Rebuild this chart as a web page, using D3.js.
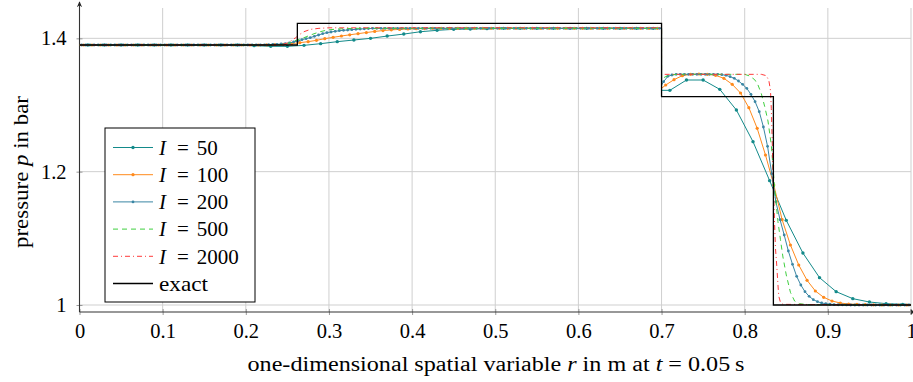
<!doctype html>
<html lang="en">
  <head>
    <meta charset="utf-8" />
    <title>Pressure profile</title>
    <style>
      body { margin: 0; background: #fff; }
      svg text { font-family: "Liberation Serif", serif; fill: #000; }
    </style>
  </head>
  <body>
    <div id="my_dataviz"></div>
    <script src="https://d3js.org/d3.v7.min.js"></script>
    <script>
// ticks
var xTicks = [0, 0.1, 0.2, 0.3, 0.4, 0.5, 0.6, 0.7, 0.8, 0.9, 1];
var yTicks = [1, 1.2, 1.4];
var legendNames = ["50", "100", "200", "500", "2000"];

// pressure at cell centres, I = 50 / 100 / 200
var p50 = [1.39,1.39,1.39,1.39,1.39,1.39,1.39,1.39,1.39,1.39,
  1.389,1.388,1.388,1.3895,1.392,1.395,1.3975,1.4,1.4034,1.4064,
  1.4099,1.412,1.4135,1.414,1.4145,1.415,1.415,1.415,1.415,1.415,
  1.415,1.415,1.415,1.415,1.415,
  1.322,1.3375,1.3375,1.3235,1.2925,1.245,1.1865,1.127,1.078,1.041,
  1.02,1.0095,1.0045,1.002,1.001];

var p100 = [1.39,1.39,1.39,1.39,1.39,1.39,1.39,1.39,1.39,1.39,
  1.39,1.39,1.39,1.39,1.39,1.39,1.39,1.39,1.39,1.39,
  1.39,1.39,1.3903,1.3906,1.391,1.392,1.3935,1.395,1.397,1.3995,
  1.4015,1.4035,1.4053,1.407,1.4087,1.4103,1.4117,1.4127,1.4134,1.414,
  1.4144,1.4147,1.415,1.415,1.415,1.415,1.415,1.415,1.415,1.415,
  1.415,1.415,1.415,1.415,1.415,1.415,1.415,1.415,1.415,1.415,
  1.415,1.415,1.415,1.415,1.415,1.415,1.415,1.415,1.415,1.415,
  1.33,1.338,1.344,1.346,1.3465,1.346,1.3445,1.34,1.331,1.318,
  1.296,1.265,1.225,1.18,1.128,1.09,1.06,1.037,1.021,1.0115,
  1.006,1.003,1.0015,1.001,1.0005,1.0003,1,1,1,1];

var p200 = [1.39,1.39,1.39,1.39,1.39,1.39,1.39,1.39,1.39,1.39,
  1.39,1.39,1.39,1.39,1.39,1.39,1.39,1.39,1.39,1.39,
  1.39,1.39,1.39,1.39,1.39,1.39,1.39,1.39,1.39,1.39,
  1.39,1.39,1.39,1.39,1.39,1.39,1.39,1.39,1.39,1.39,
  1.39,1.39,1.39,1.39,1.3902,1.3905,1.391,1.391,1.3915,1.392,
  1.393,1.3945,1.396,1.398,1.3995,1.401,1.403,1.405,1.407,1.4085,
  1.4095,1.4105,1.4115,1.412,1.4125,1.413,1.4135,1.414,1.4143,1.4146,
  1.415,1.415,1.415,1.415,1.415,1.415,1.415,1.415,1.415,1.415,
  1.415,1.415,1.415,1.415,1.415,1.415,1.415,1.415,1.415,1.415,
  1.415,1.415,1.415,1.415,1.415,1.415,1.415,1.415,1.415,1.415,
  1.415,1.415,1.415,1.415,1.415,1.415,1.415,1.415,1.415,1.415,
  1.415,1.415,1.415,1.415,1.415,1.415,1.415,1.415,1.415,1.415,
  1.415,1.415,1.415,1.415,1.415,1.415,1.415,1.415,1.415,1.415,
  1.415,1.415,1.415,1.415,1.415,1.415,1.415,1.415,1.415,1.415,
  1.335,1.343,1.345,1.346,1.346,1.346,1.346,1.346,1.346,1.346,
  1.346,1.346,1.346,1.346,1.3455,1.3445,1.3425,1.34,1.336,1.331,
  1.325,1.316,1.305,1.29,1.267,1.238,1.197,1.155,1.128,1.105,
  1.081,1.061,1.043,1.03,1.02,1.013,1.008,1.005,1.003,1.002,
  1.0012,1.0007,1.0004,1.0002,1.0001,1,1,1,1,1,
  1,1,1,1,1,1,1,1,1,1];

// values left / right of the junction at r = 0.7 (I = 50, 100, 200)
var ifaceLeft = [1.415, 1.415, 1.415];
var ifaceRight = [1.322, 1.325, 1.33];

// I = 500 and I = 2000, no markers
var r500 = [0, 0.24, 0.25, 0.258, 0.268, 0.278, 0.288, 0.298, 0.31, 0.33, 0.7, 0.7, 0.702, 0.704, 0.708, 0.714, 0.72,
  0.8, 0.806, 0.812, 0.816, 0.82, 0.824, 0.828, 0.832, 0.836, 0.84, 0.843, 0.846, 0.85, 0.855, 0.86, 0.866, 0.875, 1];
var p500 = [1.39, 1.39, 1.392, 1.396, 1.4, 1.405, 1.4095, 1.4125, 1.414, 1.415, 1.415, 1.338, 1.34, 1.342, 1.344, 1.3455, 1.346,
  1.346, 1.3435, 1.338, 1.33, 1.317, 1.298, 1.276, 1.24, 1.175, 1.125, 1.098, 1.072, 1.045, 1.019, 1.006, 1.002, 1.0005, 1];

var r2000 = [0, 0.242, 0.25, 0.254, 0.26, 0.265, 0.27, 0.278, 0.288, 0.3, 0.7, 0.7,
  0.82, 0.826, 0.829, 0.831, 0.832, 0.833, 0.834, 0.835, 0.836, 0.837, 0.8385, 0.84, 0.841, 0.843, 0.846, 1];
var p2000 = [1.39, 1.39, 1.393, 1.396, 1.401, 1.406, 1.41, 1.4135, 1.415, 1.4158, 1.4158, 1.346,
  1.346, 1.344, 1.337, 1.322, 1.295, 1.25, 1.2, 1.16, 1.12, 1.085, 1.06, 1.03, 1.013, 1.004, 1.001, 1];

// exact solution
var rExact = [0, 0.262, 0.262, 0.7, 0.7, 0.8345, 0.8345, 1];
var pExact = [1.39, 1.39, 1.4225, 1.4225, 1.3125, 1.3125, 1, 1];

var width = 913, height = 382;
var serif = "'Liberation Serif', serif";

var svg = d3.select("#my_dataviz")
  .append("svg")
    .attr("width", width)
    .attr("height", height);

var x = d3.scaleLinear().domain([0, 1]).range([79.5, 911]);
var y = d3.scaleLinear().domain([0.9895, 1.45]).range([312, 5]);

// grid
svg.append("g")
  .selectAll("line")
  .data(xTicks)
  .enter()
  .append("line")
    .attr("x1", function(d) { return x(d); })
    .attr("x2", function(d) { return x(d); })
    .attr("y1", y(0.9895))
    .attr("y2", 8)
    .attr("stroke", "#cfcfcf")
    .attr("stroke-width", 1);

svg.append("g")
  .selectAll("line")
  .data(yTicks)
  .enter()
  .append("line")
    .attr("x1", x(0))
    .attr("x2", x(1))
    .attr("y1", function(d) { return y(d); })
    .attr("y2", function(d) { return y(d); })
    .attr("stroke", "#cfcfcf")
    .attr("stroke-width", 1);

// axes
var xAxis = d3.axisBottom(x).tickValues(xTicks).tickSize(6).tickPadding(8)
  .tickFormat(function(d) { return d === 0 || d === 1 ? d3.format("d")(d) : d3.format(".1f")(d); });
var gx = svg.append("g")
  .attr("transform", "translate(0," + (y(0.9895) - 3) + ")")
  .attr("font-family", serif)
  .call(xAxis);
gx.select(".domain").remove();
gx.selectAll(".tick line").attr("stroke", "#999");
gx.selectAll(".tick text").attr("font-family", serif).style("font-size", "20.5px");

var yAxis = d3.axisLeft(y).tickValues(yTicks).tickSize(6).tickPadding(10)
  .tickFormat(function(d) { return d === 1 ? "1" : d3.format(".1f")(d); });
var gy = svg.append("g")
  .attr("transform", "translate(" + (x(0) + 3) + ",0)")
  .attr("font-family", serif)
  .call(yAxis);
gy.select(".domain").remove();
gy.selectAll(".tick line").attr("stroke", "#999");
gy.selectAll(".tick text").attr("font-family", serif).style("font-size", "20.5px");

// axis lines with arrows
svg.append("defs").append("marker")
    .attr("id", "arrow")
    .attr("viewBox", "0 0 10 10")
    .attr("refX", 8).attr("refY", 5)
    .attr("markerWidth", 6).attr("markerHeight", 6)
    .attr("orient", "auto")
  .append("path")
    .attr("d", "M0,1 L9,5 L0,9 L3,5 Z")
    .attr("fill", "#222");

svg.append("line")
  .attr("x1", x(0)).attr("x2", 915)
  .attr("y1", y(0.9895)).attr("y2", y(0.9895))
  .attr("stroke", "#333").attr("stroke-width", 1.1)
  .attr("marker-end", "url(#arrow)");
svg.append("line")
  .attr("x1", x(0)).attr("x2", x(0))
  .attr("y1", y(0.9895)).attr("y2", 2)
  .attr("stroke", "#333").attr("stroke-width", 1.1)
  .attr("marker-end", "url(#arrow)");

// build the point lists
function cellSeries(p, iL, iR) {
  var h = 1 / p.length;
  var pts = [{ r: 0, p: p[0], m: false }];
  p.forEach(function(v, i) {
    var r = (i + 0.5) * h;
    if (r > 0.7 && pts[pts.length - 1].r < 0.7) {
      pts.push({ r: 0.7, p: iL, m: false }, { r: 0.7, p: iR, m: false });
    }
    pts.push({ r: r, p: v, m: true });
  });
  pts.push({ r: 1, p: p[p.length - 1], m: false });
  return pts;
}
function pairSeries(rs, ps) {
  return rs.map(function(r, i) { return { r: r, p: ps[i], m: false }; });
}

var series = [
  { pts: cellSeries(p50, ifaceLeft[0], ifaceRight[0]), color: "#138a8a", dash: null, marker: 1.7 },
  { pts: cellSeries(p100, ifaceLeft[1], ifaceRight[1]), color: "#ff8a1c", dash: null, marker: 1.6 },
  { pts: cellSeries(p200, ifaceLeft[2], ifaceRight[2]), color: "#3a86a4", dash: null, marker: 1.4 },
  { pts: pairSeries(r500, p500), color: "#3fcf3f", dash: "5,4", marker: 0 },
  { pts: pairSeries(r2000, p2000), color: "#ff3b3b", dash: "5,3,1,3", marker: 0 },
  { pts: pairSeries(rExact, pExact), color: "#000", dash: null, marker: 0 }
];

var line = d3.line()
  .x(function(d) { return x(d.r); })
  .y(function(d) { return y(d.p); });

series.forEach(function(s, i) {
  svg.append("path")
    .datum(s.pts)
    .attr("fill", "none")
    .attr("stroke", s.color)
    .attr("stroke-width", i === 5 ? 1.3 : 1)
    .attr("stroke-dasharray", s.dash)
    .attr("d", line);
  if (s.marker > 0) {
    svg.append("g")
      .selectAll("circle")
      .data(s.pts.filter(function(d) { return d.m; }))
      .enter()
      .append("circle")
        .attr("cx", function(d) { return x(d.r); })
        .attr("cy", function(d) { return y(d.p); })
        .attr("r", s.marker)
        .attr("fill", s.color);
  }
});

// legend
var legend = svg.append("g").attr("transform", "translate(105,128)");
legend.append("rect")
  .attr("width", 150).attr("height", 174)
  .attr("fill", "#fff").attr("stroke", "#000").attr("stroke-width", 1);

var labels = legendNames.concat(["exact"]);
labels.forEach(function(name, i) {
  var s = series[i];
  var yy = 19.5 + i * 27.2;
  var item = legend.append("g").attr("transform", "translate(0," + yy + ")");
  item.append("line")
    .attr("x1", 8).attr("x2", 48)
    .attr("stroke", s.color).attr("stroke-width", i === 5 ? 1.3 : 1)
    .attr("stroke-dasharray", s.dash);
  if (s.marker > 0) {
    item.append("circle").attr("cx", 28).attr("r", s.marker).attr("fill", s.color);
  }
  var t = item.append("text").attr("x", 54).attr("dy", "0.35em")
    .attr("font-family", serif).style("font-size", "21px");
  if (i < 5) {
    t.append("tspan").style("font-style", "italic").text("I");
    t.append("tspan").attr("dx", 11).text("=");
    t.append("tspan").attr("dx", 8).text(name);
  } else {
    t.attr("textLength", 49).attr("lengthAdjust", "spacingAndGlyphs").text(name);
  }
});

// axis labels
var xl = svg.append("text")
  .attr("x", 496).attr("y", 371)
  .attr("text-anchor", "middle")
  .attr("font-family", serif)
  .attr("textLength", 497)
  .attr("lengthAdjust", "spacingAndGlyphs")
  .style("font-size", "20.5px");
xl.append("tspan").text("one-dimensional spatial variable ");
xl.append("tspan").style("font-style", "italic").text("r");
xl.append("tspan").text(" in m at ");
xl.append("tspan").style("font-style", "italic").text("t");
xl.append("tspan").text(" = 0.05\u2009s");

var yl = svg.append("text")
  .attr("transform", "translate(28,172) rotate(-90)")
  .attr("text-anchor", "middle")
  .attr("font-family", serif)
  .attr("textLength", 152)
  .attr("lengthAdjust", "spacingAndGlyphs")
  .style("font-size", "20.5px");
yl.append("tspan").text("pressure ");
yl.append("tspan").style("font-style", "italic").text("p");
yl.append("tspan").text(" in bar");
    </script>
  </body>
</html>
